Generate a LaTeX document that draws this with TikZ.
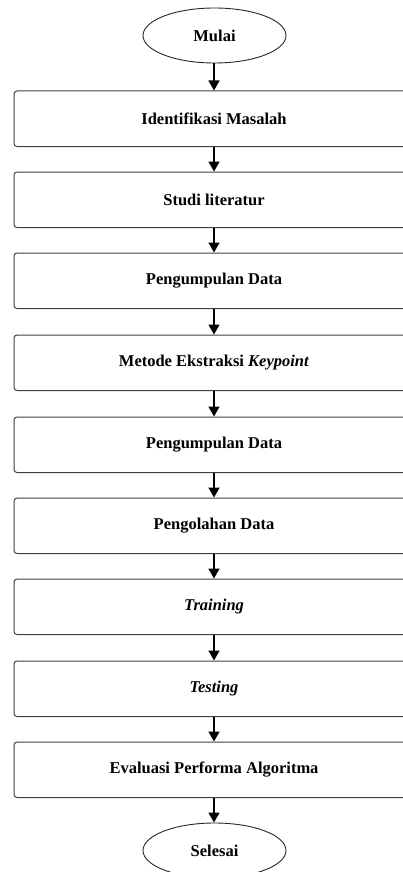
\documentclass[tikz,border=0pt]{standalone}
\usepackage{fontspec}
\setmainfont{Liberation Serif}
\usetikzlibrary{arrows.meta,shapes.geometric}
\newcommand{\bx}[1]{\kern-40pt#1}
\begin{document}
\begin{tikzpicture}[x=1pt,y=-1pt,
  every node/.style={font=\fontsize{16.5}{19}\selectfont\bfseries},
  procbox/.style={draw=black!75, line width=1pt, rounded corners=3pt, rectangle,
    minimum width=440pt, minimum height=55.5pt, inner sep=0pt},
  termnode/.style={draw=black!85, line width=0.9pt, ellipse,
    minimum width=143pt, minimum height=55pt, inner sep=0pt},
  flow/.style={line width=1.6pt, -{Triangle[length=10pt,width=11pt]}}]
\useasboundingbox (0,0) rectangle (403,872);
\clip (0,0) rectangle (403,872);
\node[termnode] (mulai) at (214.5,35.5) {Mulai};
\node[procbox] (b1) at (234,118.75) {\bx{Identifikasi Masalah}};
\node[procbox] (b2) at (234,199.75) {\bx{Studi literatur}};
\node[procbox] (b3) at (234,280.75) {\bx{Pengumpulan Data}};
\node[procbox] (b4) at (234,362.75) {\bx{Metode Ekstraksi \textit{Keypoint}}};
\node[procbox] (b5) at (234,444.75) {\bx{Pengumpulan Data}};
\node[procbox] (b6) at (234,525.75) {\bx{Pengolahan Data}};
\node[procbox] (b7) at (234,606.75) {\bx{\textit{Training}}};
\node[procbox] (b8) at (234,688.75) {\bx{\textit{Testing}}};
\node[procbox] (b9) at (234,769.75) {\bx{Evaluasi Performa Algoritma}};
\node[termnode] (selesai) at (214.5,850.5) {Selesai};
\coordinate (ax) at (214,0);
\draw[flow] (mulai.south -| ax) -- (b1.north -| ax);
\draw[flow] (b1.south -| ax) -- (b2.north -| ax);
\draw[flow] (b2.south -| ax) -- (b3.north -| ax);
\draw[flow] (b3.south -| ax) -- (b4.north -| ax);
\draw[flow] (b4.south -| ax) -- (b5.north -| ax);
\draw[flow] (b5.south -| ax) -- (b6.north -| ax);
\draw[flow] (b6.south -| ax) -- (b7.north -| ax);
\draw[flow] (b7.south -| ax) -- (b8.north -| ax);
\draw[flow] (b8.south -| ax) -- (b9.north -| ax);
\draw[flow] (b9.south -| ax) -- (selesai.north -| ax);
\end{tikzpicture}
\end{document}
